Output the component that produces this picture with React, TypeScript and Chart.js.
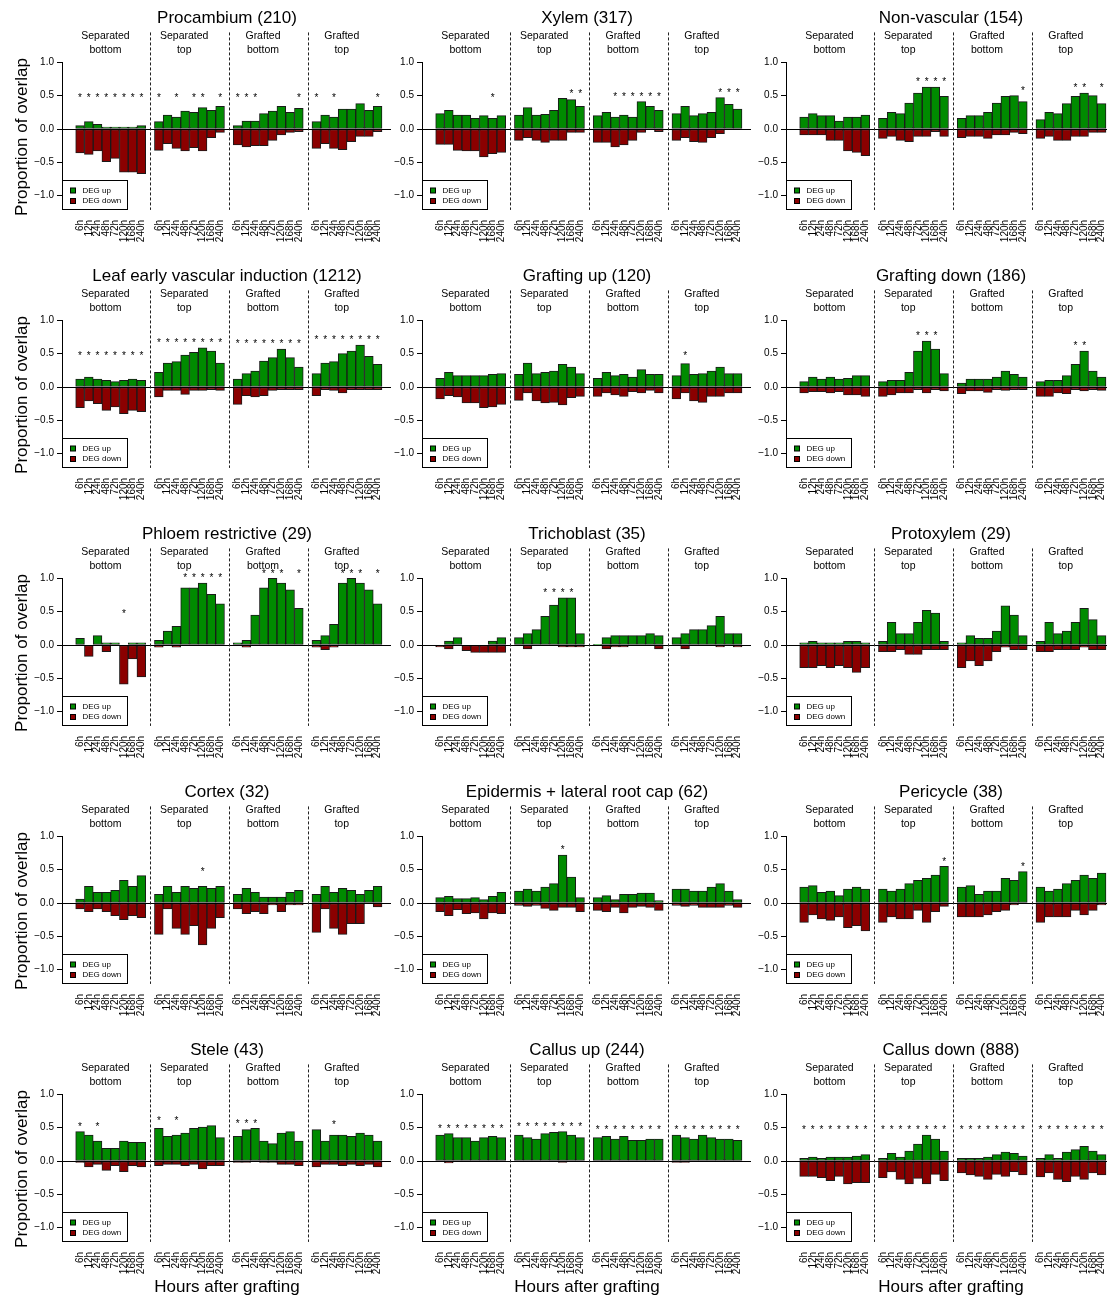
import React, { useEffect, useRef } from "react";
import { Chart, registerables } from "chart.js";

Chart.register(...registerables);

// ---- labels ----
const timepoints = ["6h", "12h", "24h", "48h", "72h", "120h", "168h", "240h"];
const groupLine1 = ["Separated", "Separated", "Grafted", "Grafted"];
const groupLine2 = ["bottom", "top", "bottom", "top"];
const yTickValues = [-1, -0.5, 0, 0.5, 1];
const legendLabels = ["DEG up", "DEG down"];
const yTitle = "Proportion of overlap";
const xTitle = "Hours after grafting";
const ALL = [0, 1, 2, 3, 4, 5, 6, 7];

// ---- series: four groups of eight time points each ----
const procambiumUp = [
  [0.05, 0.11, 0.07, 0.03, 0.03, 0.03, 0.03, 0.05],
  [0.11, 0.21, 0.18, 0.27, 0.25, 0.32, 0.28, 0.34],
  [0.05, 0.12, 0.12, 0.23, 0.27, 0.34, 0.25, 0.31],
  [0.11, 0.21, 0.18, 0.3, 0.3, 0.38, 0.28, 0.34],
];
const procambiumDown = [
  [-0.36, -0.38, -0.33, -0.49, -0.44, -0.65, -0.65, -0.67],
  [-0.32, -0.22, -0.29, -0.33, -0.28, -0.33, -0.13, -0.05],
  [-0.24, -0.27, -0.25, -0.25, -0.17, -0.09, -0.05, -0.04],
  [-0.29, -0.22, -0.29, -0.31, -0.19, -0.11, -0.11, -0.04],
];
const procambiumStars = [ALL, [0, 2, 4, 5, 7], [0, 1, 2, 7], [0, 2, 7]];

const xylemUp = [
  [0.23, 0.28, 0.21, 0.21, 0.16, 0.2, 0.16, 0.2],
  [0.21, 0.32, 0.21, 0.22, 0.28, 0.46, 0.44, 0.34],
  [0.2, 0.25, 0.18, 0.21, 0.18, 0.41, 0.34, 0.28],
  [0.23, 0.34, 0.2, 0.23, 0.25, 0.47, 0.37, 0.3],
];
const xylemDown = [
  [-0.23, -0.23, -0.32, -0.33, -0.33, -0.42, -0.37, -0.35],
  [-0.17, -0.13, -0.17, -0.2, -0.17, -0.17, -0.05, -0.05],
  [-0.2, -0.2, -0.27, -0.24, -0.17, -0.05, -0.01, -0.04],
  [-0.17, -0.13, -0.19, -0.2, -0.13, -0.07, -0.01, -0.01],
];
const xylemStars = [[6], [6, 7], [2, 3, 4, 5, 6, 7], [5, 6, 7]];

const nonVascularUp = [
  [0.18, 0.23, 0.2, 0.2, 0.12, 0.18, 0.18, 0.21],
  [0.16, 0.25, 0.23, 0.39, 0.54, 0.63, 0.63, 0.49],
  [0.16, 0.2, 0.2, 0.25, 0.39, 0.49, 0.5, 0.41],
  [0.14, 0.25, 0.23, 0.38, 0.49, 0.54, 0.5, 0.38],
];
const nonVascularDown = [
  [-0.09, -0.09, -0.09, -0.17, -0.17, -0.33, -0.35, -0.4],
  [-0.14, -0.11, -0.17, -0.19, -0.11, -0.11, -0.04, -0.11],
  [-0.13, -0.11, -0.11, -0.14, -0.09, -0.09, -0.05, -0.07],
  [-0.14, -0.11, -0.17, -0.17, -0.11, -0.11, -0.05, -0.05],
];
const nonVascularStars = [[], [4, 5, 6, 7], [7], [4, 5, 7]];

const leafVascularUp = [
  [0.12, 0.15, 0.12, 0.1, 0.08, 0.1, 0.12, 0.1],
  [0.22, 0.36, 0.38, 0.48, 0.52, 0.59, 0.54, 0.36],
  [0.12, 0.2, 0.24, 0.39, 0.44, 0.57, 0.44, 0.3],
  [0.2, 0.36, 0.38, 0.5, 0.54, 0.63, 0.46, 0.34],
];
const leafVascularDown = [
  [-0.31, -0.21, -0.25, -0.35, -0.3, -0.4, -0.35, -0.37],
  [-0.15, -0.05, -0.05, -0.11, -0.05, -0.05, -0.04, -0.05],
  [-0.26, -0.13, -0.15, -0.13, -0.05, -0.04, -0.04, -0.04],
  [-0.13, -0.04, -0.05, -0.09, -0.04, -0.04, -0.04, -0.04],
];
const leafVascularStars = [ALL, ALL, ALL, ALL];

const graftingUpUp = [
  [0.13, 0.22, 0.17, 0.17, 0.17, 0.17, 0.19, 0.2],
  [0.19, 0.36, 0.2, 0.22, 0.24, 0.34, 0.3, 0.2],
  [0.13, 0.22, 0.17, 0.19, 0.15, 0.26, 0.19, 0.19],
  [0.17, 0.35, 0.19, 0.2, 0.24, 0.3, 0.2, 0.2],
];
const graftingUpDown = [
  [-0.18, -0.13, -0.15, -0.24, -0.24, -0.31, -0.3, -0.26],
  [-0.2, -0.09, -0.21, -0.24, -0.23, -0.27, -0.16, -0.14],
  [-0.14, -0.09, -0.12, -0.14, -0.07, -0.09, -0.05, -0.09],
  [-0.18, -0.09, -0.21, -0.23, -0.14, -0.14, -0.09, -0.09],
];
const graftingUpStars = [[], [], [], [1]];

const graftingDownUp = [
  [0.08, 0.15, 0.12, 0.15, 0.12, 0.13, 0.17, 0.17],
  [0.08, 0.1, 0.1, 0.22, 0.54, 0.69, 0.57, 0.2],
  [0.06, 0.12, 0.12, 0.12, 0.15, 0.24, 0.19, 0.15],
  [0.08, 0.1, 0.1, 0.17, 0.34, 0.54, 0.24, 0.15],
];
const graftingDownDown = [
  [-0.09, -0.07, -0.07, -0.09, -0.07, -0.12, -0.12, -0.14],
  [-0.14, -0.12, -0.09, -0.09, -0.04, -0.09, -0.04, -0.06],
  [-0.1, -0.06, -0.06, -0.08, -0.04, -0.05, -0.04, -0.04],
  [-0.14, -0.14, -0.09, -0.1, -0.04, -0.06, -0.04, -0.05],
];
const graftingDownStars = [[], [4, 5, 6], [], [4, 5]];

const phloemUp = [
  [0.1, 0, 0.14, 0.034, 0.034, 0, 0.034, 0.034],
  [0.069, 0.21, 0.28, 0.86, 0.86, 0.93, 0.76, 0.62],
  [0.034, 0.069, 0.45, 0.86, 1.0, 0.93, 0.83, 0.55],
  [0.069, 0.14, 0.31, 0.93, 1.0, 0.93, 0.83, 0.62],
];
const phloemDown = [
  [0, -0.17, 0, -0.1, 0, -0.59, -0.21, -0.48],
  [-0.034, 0, -0.034, 0, 0, 0, 0, 0],
  [0, -0.034, 0, 0, 0, 0, 0, 0],
  [-0.034, -0.069, -0.034, 0, 0, 0, 0, 0],
];
const phloemStars = [[5], [3, 4, 5, 6, 7], [3, 4, 5, 7], [3, 4, 5, 7]];

const trichoblastUp = [
  [0, 0.057, 0.11, 0, 0, 0, 0.057, 0.11],
  [0.11, 0.17, 0.23, 0.43, 0.6, 0.71, 0.71, 0.17],
  [0.01, 0.11, 0.14, 0.14, 0.14, 0.14, 0.17, 0.14],
  [0.11, 0.17, 0.23, 0.23, 0.29, 0.43, 0.17, 0.17],
];
const trichoblastDown = [
  [-0.029, -0.057, 0, -0.086, -0.11, -0.11, -0.11, -0.11],
  [0, -0.057, 0, 0, 0, -0.029, -0.029, -0.029],
  [0, -0.057, -0.029, -0.029, 0, 0, 0, -0.057],
  [0, -0.057, 0, 0, 0, -0.029, 0, -0.029],
];
const trichoblastStars = [[], [3, 4, 5, 6], [], []];

const protoxylemUp = [
  [0.034, 0.055, 0.034, 0.034, 0.034, 0.055, 0.055, 0.034],
  [0.055, 0.34, 0.17, 0.17, 0.34, 0.52, 0.48, 0.055],
  [0.034, 0.14, 0.1, 0.1, 0.21, 0.59, 0.45, 0.14],
  [0.055, 0.34, 0.17, 0.21, 0.34, 0.55, 0.38, 0.14],
];
const protoxylemDown = [
  [-0.34, -0.34, -0.31, -0.34, -0.31, -0.34, -0.41, -0.34],
  [-0.1, -0.1, -0.07, -0.14, -0.14, -0.07, -0.07, -0.07],
  [-0.34, -0.24, -0.31, -0.24, -0.1, -0.034, -0.07, -0.07],
  [-0.1, -0.1, -0.07, -0.07, -0.07, -0.034, -0.07, -0.07],
];
const protoxylemStars = [[], [], [], []];

const cortexUp = [
  [0.06, 0.25, 0.16, 0.16, 0.19, 0.34, 0.25, 0.41],
  [0.13, 0.25, 0.16, 0.25, 0.22, 0.25, 0.22, 0.25],
  [0.13, 0.22, 0.16, 0.09, 0.09, 0.09, 0.16, 0.19],
  [0.13, 0.25, 0.16, 0.22, 0.19, 0.13, 0.19, 0.25],
];
const cortexDown = [
  [-0.09, -0.13, -0.09, -0.13, -0.19, -0.25, -0.19, -0.22],
  [-0.47, -0.09, -0.38, -0.47, -0.34, -0.63, -0.38, -0.22],
  [-0.09, -0.16, -0.13, -0.16, -0.03, -0.13, -0.03, -0.03],
  [-0.44, -0.09, -0.38, -0.47, -0.31, -0.31, 0, -0.06],
];
const cortexStars = [[], [5], [], []];

const epidermisUp = [
  [0.08, 0.1, 0.065, 0.065, 0.08, 0.05, 0.1, 0.16],
  [0.18, 0.21, 0.18, 0.24, 0.29, 0.72, 0.39, 0.08],
  [0.08, 0.11, 0.05, 0.13, 0.13, 0.15, 0.15, 0.035],
  [0.21, 0.21, 0.18, 0.18, 0.24, 0.29, 0.18, 0.05],
];
const epidermisDown = [
  [-0.13, -0.19, -0.1, -0.16, -0.15, -0.24, -0.15, -0.16],
  [-0.035, -0.05, -0.035, -0.08, -0.11, -0.065, -0.065, -0.13],
  [-0.11, -0.13, -0.065, -0.15, -0.065, -0.05, -0.065, -0.11],
  [-0.035, -0.05, -0.035, -0.065, -0.065, -0.065, -0.035, -0.065],
];
const epidermisStars = [[], [5], [], []];

const pericycleUp = [
  [0.24, 0.26, 0.16, 0.18, 0.11, 0.21, 0.24, 0.21],
  [0.21, 0.18, 0.21, 0.29, 0.34, 0.37, 0.42, 0.55],
  [0.24, 0.26, 0.13, 0.18, 0.18, 0.37, 0.34, 0.47],
  [0.24, 0.18, 0.21, 0.29, 0.34, 0.42, 0.37, 0.45],
];
const pericycleDown = [
  [-0.29, -0.18, -0.24, -0.26, -0.21, -0.37, -0.34, -0.42],
  [-0.29, -0.21, -0.24, -0.24, -0.11, -0.29, -0.13, -0.05],
  [-0.21, -0.21, -0.21, -0.18, -0.13, -0.11, -0.03, 0],
  [-0.29, -0.21, -0.21, -0.21, -0.11, -0.18, -0.11, -0.03],
];
const pericycleStars = [[], [7], [7], []];

const steleUp = [
  [0.44, 0.39, 0.3, 0.19, 0.19, 0.3, 0.28, 0.28],
  [0.49, 0.37, 0.39, 0.42, 0.49, 0.51, 0.53, 0.35],
  [0.37, 0.47, 0.49, 0.3, 0.26, 0.42, 0.44, 0.3],
  [0.47, 0.3, 0.39, 0.39, 0.37, 0.42, 0.39, 0.3],
];
const steleDown = [
  [-0.02, -0.09, -0.05, -0.14, -0.07, -0.16, -0.07, -0.09],
  [-0.07, -0.05, -0.05, -0.07, -0.05, -0.12, -0.07, -0.07],
  [-0.02, -0.02, 0, -0.02, -0.02, -0.05, -0.05, -0.07],
  [-0.09, -0.05, -0.05, -0.07, -0.05, -0.07, -0.05, -0.09],
];
const steleStars = [[0, 2], [0, 2], [0, 1, 2], [2]];

const callusUpUp = [
  [0.39, 0.41, 0.35, 0.35, 0.3, 0.35, 0.37, 0.35],
  [0.39, 0.35, 0.33, 0.41, 0.43, 0.44, 0.39, 0.35],
  [0.35, 0.37, 0.33, 0.37, 0.31, 0.31, 0.33, 0.33],
  [0.39, 0.35, 0.33, 0.39, 0.35, 0.33, 0.33, 0.31],
];
const callusUpDown = [
  [-0.01, -0.03, 0, 0, 0, 0, -0.01, -0.01],
  [-0.01, -0.01, 0, 0, 0, -0.02, 0, 0],
  [0, 0, 0, 0, 0, -0.01, -0.01, 0],
  [-0.02, -0.02, 0, 0, 0, 0, 0, 0],
];
const callusUpStars = [ALL, ALL, ALL, ALL];

const callusDownUp = [
  [0.04, 0.06, 0.04, 0.06, 0.06, 0.06, 0.075, 0.095],
  [0.04, 0.115, 0.06, 0.15, 0.255, 0.39, 0.33, 0.15],
  [0.04, 0.04, 0.04, 0.06, 0.095, 0.135, 0.115, 0.075],
  [0.04, 0.095, 0.04, 0.135, 0.17, 0.22, 0.15, 0.095],
];
const callusDownDown = [
  [-0.23, -0.23, -0.25, -0.295, -0.23, -0.345, -0.325, -0.325],
  [-0.25, -0.165, -0.275, -0.345, -0.26, -0.345, -0.2, -0.295],
  [-0.18, -0.21, -0.23, -0.275, -0.2, -0.23, -0.16, -0.21],
  [-0.24, -0.18, -0.275, -0.31, -0.23, -0.275, -0.18, -0.21],
];
const callusDownStars = [ALL, ALL, ALL, ALL];

type Panel = { title: string; up: number[][]; down: number[][]; stars: number[][] };

const panels: Panel[] = [
  { title: "Procambium (210)", up: procambiumUp, down: procambiumDown, stars: procambiumStars },
  { title: "Xylem (317)", up: xylemUp, down: xylemDown, stars: xylemStars },
  { title: "Non-vascular (154)", up: nonVascularUp, down: nonVascularDown, stars: nonVascularStars },
  { title: "Leaf early vascular induction (1212)", up: leafVascularUp, down: leafVascularDown, stars: leafVascularStars },
  { title: "Grafting up (120)", up: graftingUpUp, down: graftingUpDown, stars: graftingUpStars },
  { title: "Grafting down (186)", up: graftingDownUp, down: graftingDownDown, stars: graftingDownStars },
  { title: "Phloem restrictive (29)", up: phloemUp, down: phloemDown, stars: phloemStars },
  { title: "Trichoblast (35)", up: trichoblastUp, down: trichoblastDown, stars: trichoblastStars },
  { title: "Protoxylem (29)", up: protoxylemUp, down: protoxylemDown, stars: protoxylemStars },
  { title: "Cortex (32)", up: cortexUp, down: cortexDown, stars: cortexStars },
  { title: "Epidermis + lateral root cap (62)", up: epidermisUp, down: epidermisDown, stars: epidermisStars },
  { title: "Pericycle (38)", up: pericycleUp, down: pericycleDown, stars: pericycleStars },
  { title: "Stele (43)", up: steleUp, down: steleDown, stars: steleStars },
  { title: "Callus up (244)", up: callusUpUp, down: callusUpDown, stars: callusUpStars },
  { title: "Callus down (888)", up: callusDownUp, down: callusDownDown, stars: callusDownStars },
];

// ---- styling / layout ----
const GREEN = "#008B00";
const RED = "#8B0000";
const INK = "#000000";
const EDGE = "#1a1a1a";
const FONT = "'Liberation Sans', Arial, Helvetica, sans-serif";

const AXIS_X = [63, 423, 787]; // page x of each column's y axis
const ROW_H = 258;
const CW = 400;
const CH = 264;
const PLOT_LEFT = 63;
const PLOT_RIGHT = 391;
const ZERO_Y = 129;
const UNIT = 66.6;
const Y_MIN = -1.215;
const Y_MAX = 1.45;
const X_MIN = -1.95;
const X_MAX = 35.53;
const SLOTS_PER_GROUP = 9;

const slotOf = (g: number, i: number) => g * SLOTS_PER_GROUP + i;

function fmtTick(v: number) {
  if (Math.abs(v) < 1e-9) return "0.0";
  return (v < 0 ? "\u2212" : "") + Math.abs(v).toFixed(1);
}

function makeDecor(panel: Panel, row: number, col: number) {
  return {
    id: "panelDecor",
    afterDatasetsDraw(chart: any) {
      const { ctx, chartArea: a } = chart;
      const xs = chart.scales.x;
      const ys = chart.scales.y;
      const px = (s: number) => xs.getPixelForValue(s);
      const py = (v: number) => ys.getPixelForValue(v);
      ctx.save();
      ctx.fillStyle = INK;
      ctx.strokeStyle = INK;
      ctx.lineWidth = 1;

      // zero reference line
      const y0 = Math.round(py(0)) + 0.5;
      ctx.beginPath();
      ctx.moveTo(a.left, y0);
      ctx.lineTo(a.right, y0);
      ctx.stroke();

      // y axis line spanning the labelled range
      const ax = Math.round(a.left) - 0.5;
      ctx.beginPath();
      ctx.moveTo(ax, py(1));
      ctx.lineTo(ax, py(-1));
      ctx.stroke();

      // dotted separators between the four groups
      ctx.save();
      ctx.setLineDash([3, 2]);
      ctx.strokeStyle = "#222";
      for (let k = 1; k < 4; k++) {
        const dx = Math.round(px(k * SLOTS_PER_GROUP - 1)) + 0.5;
        ctx.beginPath();
        ctx.moveTo(dx, a.top);
        ctx.lineTo(dx, a.bottom);
        ctx.stroke();
      }
      ctx.restore();

      // group headings
      ctx.font = `10.5px ${FONT}`;
      ctx.textAlign = "center";
      ctx.textBaseline = "middle";
      for (let g = 0; g < 4; g++) {
        const cx = px(g * SLOTS_PER_GROUP + 2.9);
        ctx.fillText(groupLine1[g], cx, py(0) - 93);
        ctx.fillText(groupLine2[g], cx, py(0) - 79);
      }

      // significance marks
      ctx.font = `10px ${FONT}`;
      ctx.textBaseline = "alphabetic";
      panel.stars.forEach((idx, g) => {
        const level = Math.max(0.5, Math.max(...panel.up[g]) + 0.11);
        idx.forEach((i) => {
          ctx.fillText("*", px(slotOf(g, i)), py(level) + 5.7);
        });
      });

      // time point labels, rotated
      ctx.font = `10px ${FONT}`;
      ctx.textAlign = "right";
      ctx.textBaseline = "middle";
      for (let g = 0; g < 4; g++) {
        timepoints.forEach((t, i) => {
          ctx.save();
          ctx.translate(px(slotOf(g, i)), a.bottom + 10);
          ctx.rotate(-Math.PI / 2);
          ctx.fillText(t, 0, 0);
          ctx.restore();
        });
      }

      // legend box in the lower-left corner
      const lx = Math.round(a.left) - 0.5;
      const lb = Math.round(a.bottom) - 0.5;
      ctx.strokeStyle = INK;
      ctx.strokeRect(lx, lb - 29, 65, 29);
      const swatches = [GREEN, RED];
      ctx.font = `8px ${FONT}`;
      ctx.textAlign = "left";
      ctx.textBaseline = "middle";
      legendLabels.forEach((lab, k) => {
        const cy = lb - 19 + k * 10.5;
        ctx.fillStyle = swatches[k];
        ctx.fillRect(lx + 8, cy - 2.5, 5, 5);
        ctx.strokeStyle = INK;
        ctx.strokeRect(lx + 8, cy - 2.5, 5, 5);
        ctx.fillStyle = INK;
        ctx.fillText(lab, lx + 20, cy);
      });

      // panel title
      ctx.font = `17px ${FONT}`;
      ctx.textAlign = "center";
      ctx.textBaseline = "middle";
      ctx.fillText(panel.title, (a.left + a.right) / 2, py(0) - 111);

      // axis titles on the outer panels
      if (col === 0) {
        ctx.save();
        ctx.translate(22, py(0) + 8);
        ctx.rotate(-Math.PI / 2);
        ctx.fillText(yTitle, 0, 0);
        ctx.restore();
      }
      if (row === 4) {
        ctx.fillText(xTitle, (a.left + a.right) / 2, py(0) + 126);
      }
      ctx.restore();
    },
  };
}

function PanelChart({ panel, row, col }: { panel: Panel; row: number; col: number }) {
  const ref = useRef<HTMLCanvasElement>(null);
  useEffect(() => {
    const canvas = ref.current;
    if (!canvas) return;
    const upPts: { x: number; y: number }[] = [];
    const downPts: { x: number; y: number }[] = [];
    panel.up.forEach((grp, g) => grp.forEach((v, i) => upPts.push({ x: slotOf(g, i), y: v })));
    panel.down.forEach((grp, g) => grp.forEach((v, i) => downPts.push({ x: slotOf(g, i), y: v })));
    const barStyle = {
      borderColor: EDGE,
      borderWidth: 1,
      borderSkipped: false,
      grouped: false,
      barPercentage: 1,
      categoryPercentage: 1,
    };
    const chart = new Chart(canvas, {
      type: "bar",
      data: {
        datasets: [
          { label: legendLabels[0], data: upPts, backgroundColor: GREEN, ...barStyle } as any,
          { label: legendLabels[1], data: downPts, backgroundColor: RED, ...barStyle } as any,
        ],
      },
      options: {
        responsive: false,
        animation: false,
        devicePixelRatio: 1,
        layout: {
          padding: {
            left: 0,
            right: CW - PLOT_RIGHT,
            top: ZERO_Y - Y_MAX * UNIT,
            bottom: CH - (ZERO_Y - Y_MIN * UNIT),
          },
        },
        plugins: {
          legend: { display: false },
          title: { display: false },
          tooltip: { enabled: false },
        },
        scales: {
          x: { type: "linear", display: false, min: X_MIN, max: X_MAX, offset: false },
          y: {
            type: "linear",
            min: Y_MIN,
            max: Y_MAX,
            afterFit: (s: any) => {
              s.width = PLOT_LEFT;
            },
            afterBuildTicks: (s: any) => {
              s.ticks = yTickValues.map((v) => ({ value: v }));
            },
            ticks: {
              callback: (v: any) => fmtTick(Number(v)),
              font: { size: 10, family: FONT },
              color: INK,
              padding: 3,
              autoSkip: false,
            },
            grid: { drawOnChartArea: false, drawTicks: true, tickLength: 6, color: INK, lineWidth: 1 },
            border: { display: false },
          },
        },
      } as any,
      plugins: [makeDecor(panel, row, col)],
    });
    return () => chart.destroy();
  }, [panel, row, col]);

  return (
    <canvas
      ref={ref}
      width={CW}
      height={CH}
      style={{
        position: "absolute",
        left: AXIS_X[col] - PLOT_LEFT,
        top: row * ROW_H,
        width: CW,
        height: CH,
      }}
    />
  );
}

export default function App() {
  return (
    <div
      style={{
        position: "absolute",
        left: 0,
        top: 0,
        width: 1107,
        height: 1296,
        overflow: "hidden",
        background: "#ffffff",
      }}
    >
      {panels.map((p, k) => (
        <PanelChart key={p.title} panel={p} row={Math.floor(k / 3)} col={k % 3} />
      ))}
    </div>
  );
}
